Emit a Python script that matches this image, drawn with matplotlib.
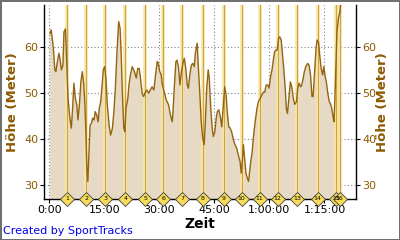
import numpy as np
import matplotlib.pyplot as plt
from matplotlib.ticker import FixedLocator

# elevation profile, time in minutes, height in metres
zeit = [0.2, 0.5, 0.8, 1.1, 1.5, 1.8, 2.2, 2.6, 2.9, 3.3, 3.7, 4.0, 4.4, 4.6, 5.1, 5.6, 6.0, 6.4, 6.7, 7.1,
        7.5, 7.8, 8.2, 8.6, 9.0, 9.4, 9.7, 10.0, 10.2, 10.5, 10.7, 11.1, 11.5, 11.8, 12.2, 12.5, 12.9, 13.3, 13.6, 14.0,
        14.4, 14.7, 15.1, 15.5, 15.8, 16.3, 16.7, 17.2, 17.6, 18.0, 18.4, 18.7, 18.9, 19.3, 19.6, 19.9, 20.3, 20.6, 20.9, 21.4,
        21.7, 22.1, 22.6, 23.2, 23.7, 24.1, 24.5, 24.8, 25.3, 25.7, 26.2, 26.6, 27.1, 27.5, 28.0, 28.5, 28.9, 29.4, 29.7, 30.1,
        30.5, 30.8, 31.4, 31.9, 32.5, 33.0, 33.5, 33.7, 34.1, 34.5, 34.8, 35.2, 35.6, 35.9, 36.4, 36.8, 37.2, 37.6, 37.9, 38.3,
        38.7, 39.1, 39.5, 39.8, 40.3, 40.6, 41.0, 41.4, 41.8, 42.2, 42.5, 42.9, 43.3, 43.6, 44.0, 44.4, 44.7, 45.1, 45.5, 45.8,
        46.2, 46.6, 47.0, 47.5, 47.8, 48.2, 48.5, 48.9, 49.3, 49.7, 50.2, 50.6, 51.1, 51.5, 52.0, 52.3, 52.6, 52.9, 53.3, 53.6,
        54.0, 54.3, 54.5, 54.9, 55.3, 55.6, 56.1, 56.6, 57.0, 57.5, 57.9, 58.4, 58.7, 59.1, 59.6, 59.9, 60.3, 60.7, 61.0, 61.4,
        61.7, 62.1, 62.5, 62.8, 63.2, 63.5, 63.9, 64.3, 64.6, 64.9, 65.3, 65.7, 66.1, 66.5, 66.9, 67.4, 67.7, 68.1, 68.5, 68.8,
        69.2, 69.5, 69.9, 70.4, 70.8, 71.2, 71.6, 71.9, 72.3, 72.7, 73.0, 73.4, 73.7, 74.1, 74.5, 74.8, 75.2, 75.5, 75.9, 76.3,
        76.6, 77.0, 77.4, 77.6, 77.9, 78.2, 78.4, 78.8, 79.2, 79.5]
hoehe = [63.0, 63.8, 61.9, 59.8, 55.1, 54.7, 56.9, 58.7, 57.6, 55.1, 56.1, 63.4, 64.0, 59.8, 48.9, 44.6, 42.4, 47.5, 52.2, 48.9,
         47.5, 44.2, 47.5, 52.5, 54.7, 51.8, 47.5, 40.2, 34.4, 30.8, 35.1, 43.1, 43.5, 44.6, 44.2, 46.0, 45.3, 43.8, 46.7, 48.2,
         51.8, 55.1, 55.8, 52.5, 47.5, 43.1, 40.9, 42.4, 46.0, 51.1, 58.3, 62.7, 65.6, 64.1, 58.3, 50.3, 42.4, 41.6, 46.7, 48.9,
         51.8, 54.0, 55.8, 54.7, 53.3, 55.4, 55.4, 53.6, 50.0, 49.3, 50.3, 50.7, 50.0, 50.7, 51.4, 50.7, 53.6, 56.9, 56.5, 54.7,
         54.0, 51.8, 50.0, 48.5, 47.5, 45.3, 43.8, 46.0, 51.8, 56.9, 57.2, 55.8, 51.8, 54.0, 56.5, 57.6, 55.4, 51.8, 51.1, 54.0,
         56.1, 56.5, 55.8, 58.7, 60.9, 56.1, 50.3, 43.8, 40.2, 38.8, 43.1, 51.1, 55.1, 53.3, 46.7, 42.4, 40.6, 41.6, 44.6, 46.0,
         46.4, 44.9, 42.7, 48.2, 51.4, 49.6, 46.0, 42.7, 42.4, 41.6, 39.8, 38.8, 38.0, 36.6, 35.1, 32.6, 35.1, 38.8, 35.1, 32.6,
         31.5, 30.8, 32.2, 35.1, 37.3, 40.2, 43.8, 46.7, 48.2, 48.9, 49.6, 50.3, 50.2, 51.8, 51.8, 51.1, 53.6, 55.1, 56.9, 59.0,
         59.4, 59.4, 62.0, 62.3, 61.6, 59.0, 55.4, 51.1, 46.7, 45.6, 48.9, 52.5, 51.4, 48.9, 47.6, 48.2, 51.1, 52.2, 51.4, 51.8,
         53.3, 54.7, 55.8, 56.5, 56.1, 54.0, 49.3, 49.3, 54.7, 59.8, 61.6, 60.9, 58.3, 55.4, 54.0, 55.8, 53.6, 52.5, 50.0, 48.2,
         47.8, 46.7, 44.6, 43.8, 50.3, 58.3, 63.4, 66.3, 67.7, 70.3]

# lap markers (minutes)
runden = [4.8, 10.1, 15.2, 20.7, 26.2, 31.1, 36.3, 41.9, 47.5, 52.4, 57.3, 62.2, 67.6, 73.1, 78.1, 79.1]
runden_nr = [str(i) for i in range(1, 17)]

x_ticks = [0, 15, 30, 45, 60, 75]
x_labels = ['0:00', '15:00', '30:00', '45:00', '1:00:00', '1:15:00']
y_ticks = [30, 40, 50, 60]

braun = '#8c5a00'
linie = '#946410'
flaeche = '#e6dac5'

fig = plt.figure(figsize=(4, 2.4), dpi=100)
fig.patch.set_edgecolor('#707070')
fig.patch.set_linewidth(2)
ax = fig.add_axes([0.11, 0.171, 0.781, 0.808])

ax.fill_between(zeit, hoehe, 0, color=flaeche, lw=0, zorder=1)
ax.plot(zeit, hoehe, color=linie, lw=1.0, zorder=3)

ax.set_xlim(-1.45, 83.7)
ax.set_ylim(27.0, 69.2)

for r in runden:
    ax.axvline(r, color='#fbe6a0', lw=2.6, zorder=2)
    ax.axvline(r, color='#c9a548', lw=0.8, zorder=2)

ax.plot(runden, [27.0] * len(runden), 'D', ms=7.5, mfc='#f7dc5a', mec='#404040', mew=0.6,
        clip_on=False, zorder=5)
for r, n in zip(runden, runden_nr):
    ax.text(r, 27.0, n, fontsize=4.5, ha='center', va='center', zorder=6, clip_on=False)

ax.xaxis.set_major_locator(FixedLocator(x_ticks))
ax.set_xticklabels(x_labels)
ax.set_yticks(y_ticks)
ax.grid(True, color='#808080', ls=(0, (1, 2)), lw=0.8, zorder=0)
ax.set_axisbelow(True)

for s in ['left', 'bottom', 'right']:
    ax.spines[s].set_color('black')
    ax.spines[s].set_linewidth(1.0)
ax.spines['top'].set_visible(False)

ax.tick_params(axis='x', labelsize=8, length=3, pad=1, colors='black')
ax.tick_params(axis='y', labelsize=8, length=3, pad=1, labelcolor=braun,
               right=True, labelright=True)

ax.set_xlabel('Zeit', fontsize=10, fontweight='bold', labelpad=2)
ax.set_ylabel('Höhe (Meter)', fontsize=9.5, fontweight='bold', color=braun, labelpad=4)
ax2 = ax.secondary_yaxis('right')
ax2.set_yticks([])
ax2.spines['right'].set_visible(False)
ax2.set_ylabel('Höhe (Meter)', fontsize=9.5, fontweight='bold', color=braun, labelpad=14, rotation=90)

fig.text(0.008, 0.015, 'Created by SportTracks', color='#0000ee', fontsize=8, ha='left', va='bottom')

plt.savefig('out.png', dpi=100, edgecolor=fig.get_edgecolor())
